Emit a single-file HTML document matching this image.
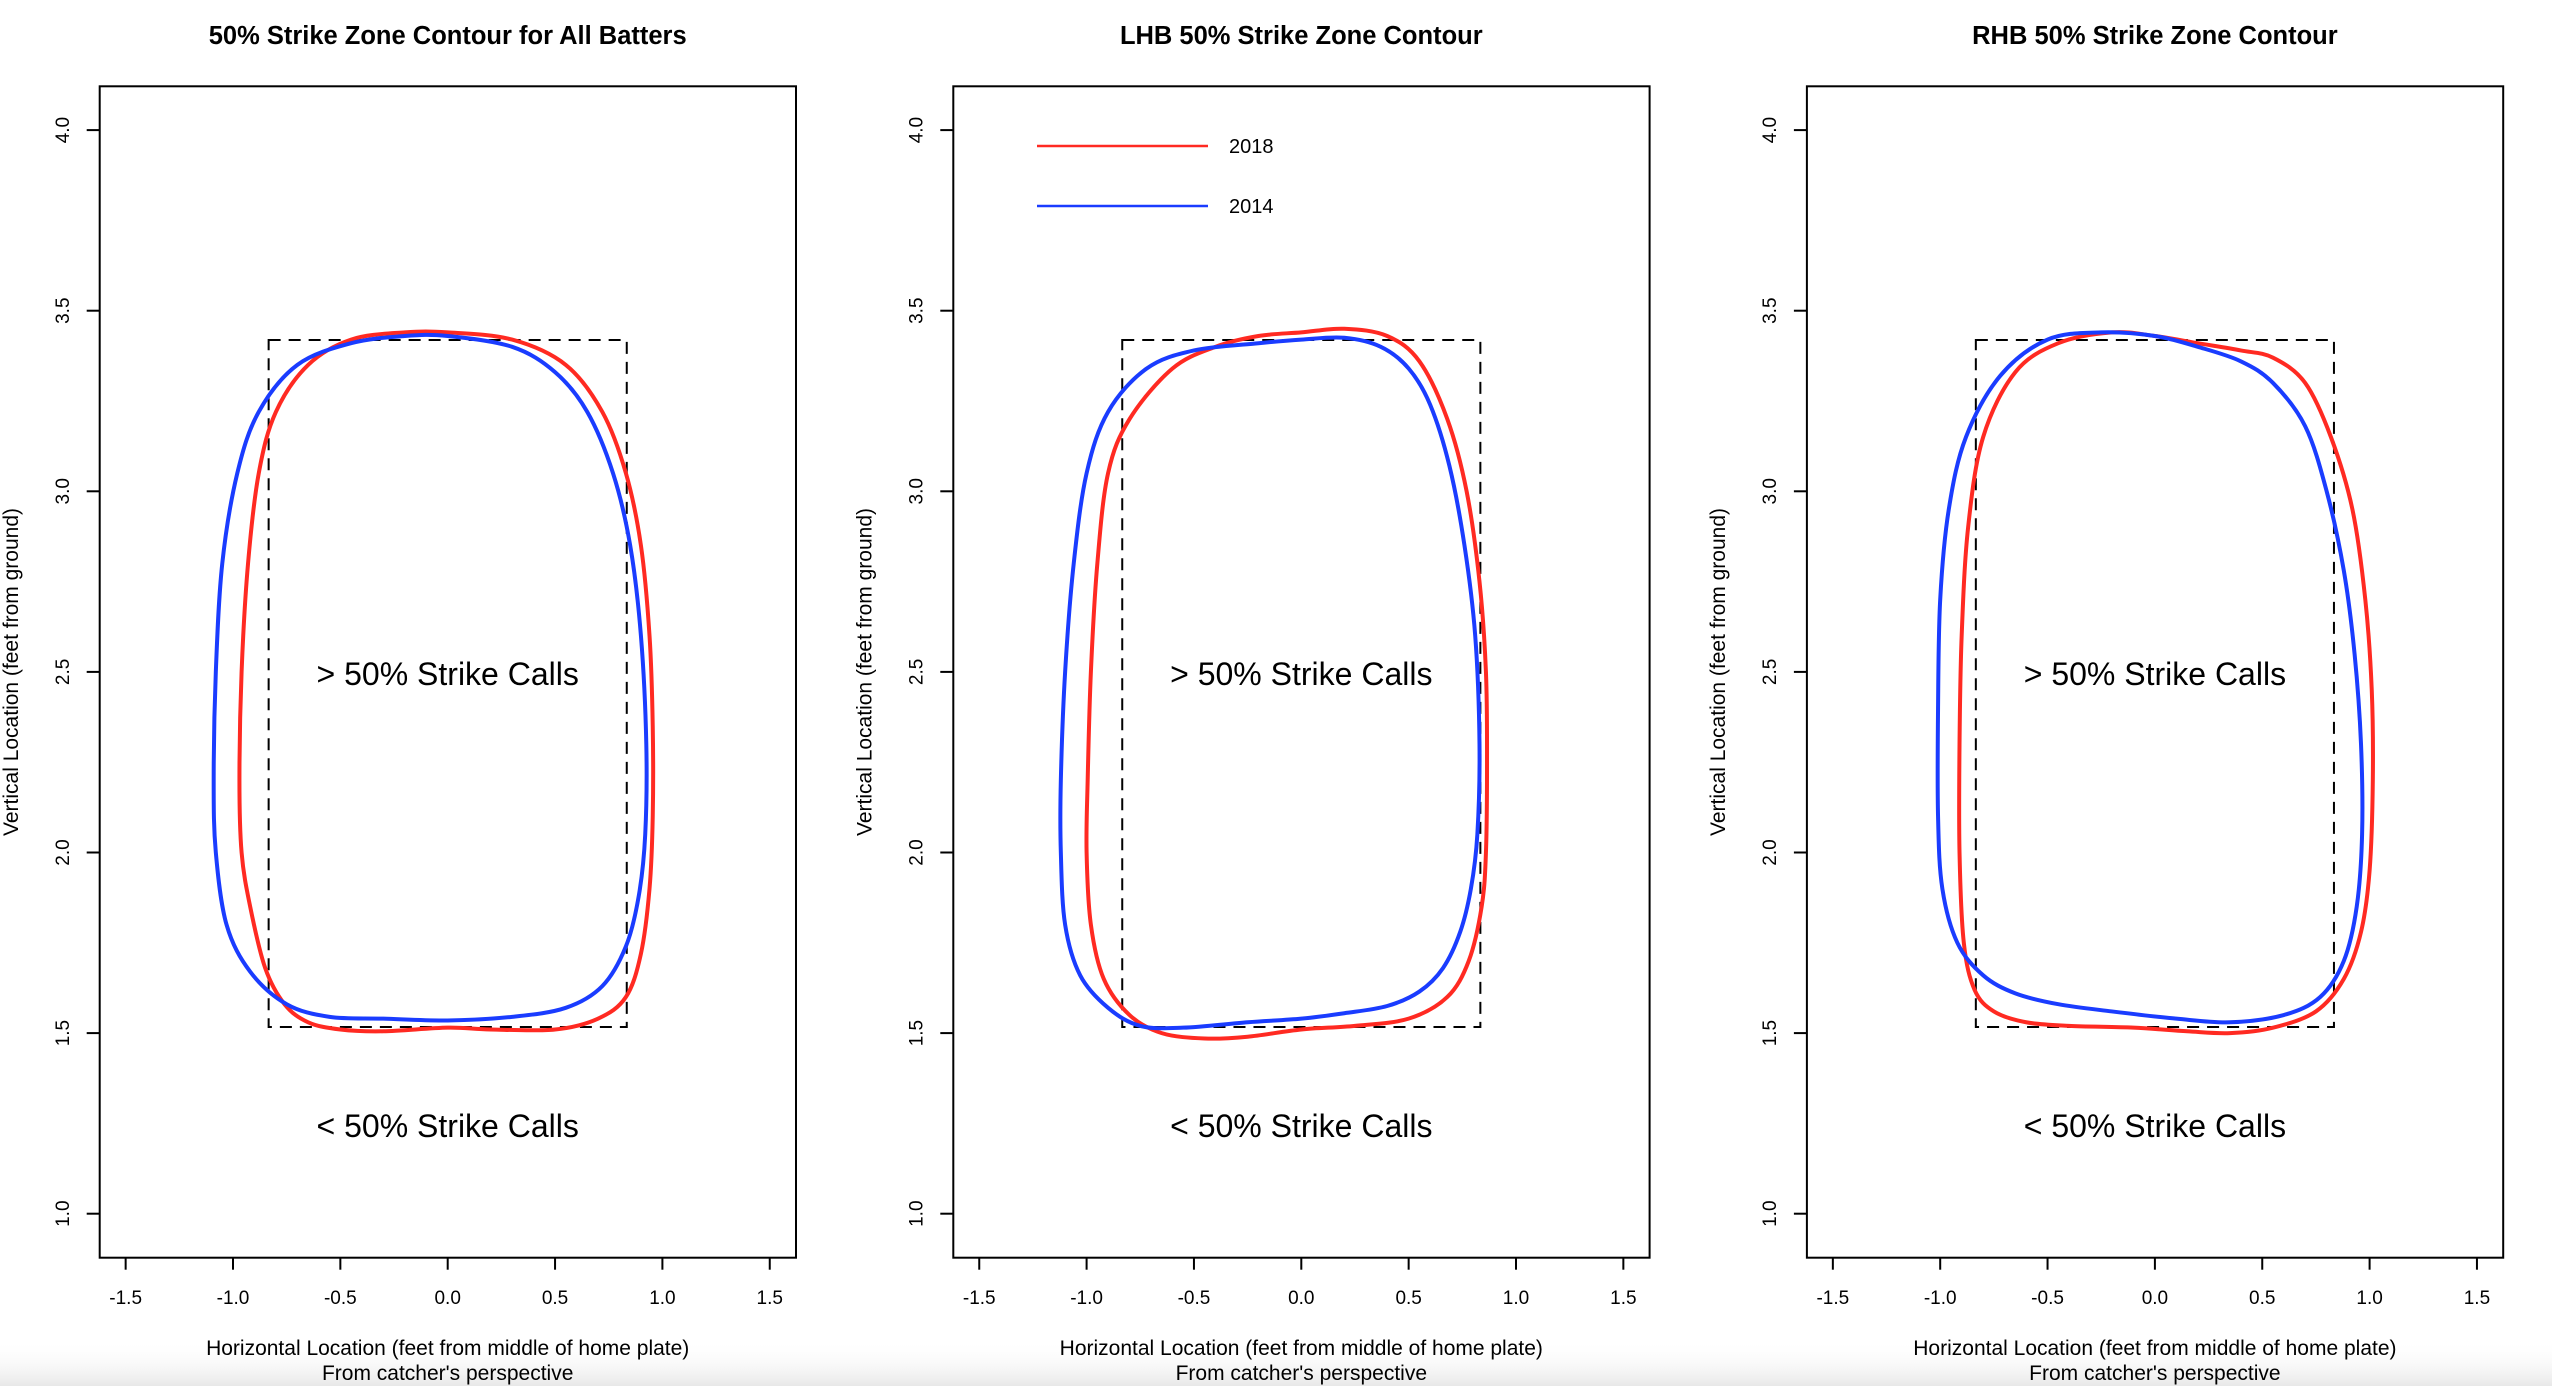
<!DOCTYPE html>
<html><head><meta charset="utf-8"><style>
html,body{margin:0;padding:0;background:#fff;}
body{width:2552px;height:1386px;overflow:hidden;position:relative;}
svg{position:absolute;left:0;top:0;}
text{font-family:"Liberation Sans",Arial,sans-serif;fill:#000;}
</style></head><body>
<svg id="chart" width="2552" height="1386" viewBox="0 0 2552 1386">
<defs><linearGradient id="fade" x1="0" y1="0" x2="0" y2="1"><stop offset="0" stop-color="#fff" stop-opacity="0"/><stop offset="1" stop-color="#e8e8e8"/></linearGradient></defs>
<rect x="0" y="1340" width="2552" height="46" fill="url(#fade)"/>
</svg>
<script>
const panelTitles = ["50% Strike Zone Contour for All Batters","LHB 50% Strike Zone Contour","RHB 50% Strike Zone Contour"];
const xTicks = [-1.5,-1.0,-0.5,0.0,0.5,1.0,1.5];
const yTicks = [1.0,1.5,2.0,2.5,3.0,3.5,4.0];
const zoneBox = [-0.834,0.834,1.517,3.419];
const seriesNames = ["2018","2014"];
const seriesColors = ["#ff2a22","#1a3cff"];
const allRed = [[0,3.44],[0.3,3.42],[0.55,3.35],[0.72,3.22],[0.83,3.05],[0.9,2.85],[0.94,2.6],[0.955,2.35],[0.955,2.1],[0.94,1.9],[0.9,1.72],[0.83,1.6],[0.7,1.54],[0.5,1.51],[0.2,1.51],[0,1.515],[-0.3,1.505],[-0.5,1.51],[-0.65,1.53],[-0.76,1.58],[-0.85,1.68],[-0.92,1.85],[-0.96,2.0],[-0.97,2.2],[-0.96,2.5],[-0.93,2.8],[-0.88,3.05],[-0.8,3.22],[-0.65,3.35],[-0.45,3.42],[-0.2,3.44]];
const allBlue = [[0,3.43],[0.3,3.40],[0.5,3.33],[0.65,3.22],[0.77,3.05],[0.85,2.85],[0.9,2.6],[0.925,2.3],[0.92,2.05],[0.89,1.88],[0.83,1.74],[0.72,1.63],[0.55,1.57],[0.3,1.545],[0,1.535],[-0.3,1.54],[-0.55,1.545],[-0.75,1.58],[-0.92,1.67],[-1.03,1.8],[-1.08,2.0],[-1.09,2.2],[-1.08,2.5],[-1.05,2.8],[-0.98,3.05],[-0.88,3.22],[-0.7,3.35],[-0.45,3.41],[-0.2,3.43]];
const lhbRed = [[0,3.44],[0.2,3.45],[0.4,3.43],[0.55,3.36],[0.68,3.2],[0.77,3.0],[0.83,2.75],[0.86,2.5],[0.865,2.25],[0.86,2.0],[0.84,1.85],[0.78,1.7],[0.68,1.6],[0.5,1.54],[0.25,1.52],[0,1.51],[-0.25,1.49],[-0.45,1.485],[-0.65,1.5],[-0.8,1.55],[-0.92,1.65],[-0.98,1.8],[-1.0,2.0],[-0.995,2.2],[-0.98,2.5],[-0.95,2.8],[-0.9,3.05],[-0.8,3.2],[-0.6,3.34],[-0.4,3.4],[-0.2,3.43]];
const lhbBlue = [[0,3.42],[0.2,3.425],[0.37,3.40],[0.5,3.34],[0.6,3.24],[0.69,3.07],[0.76,2.85],[0.81,2.6],[0.83,2.3],[0.82,2.05],[0.79,1.9],[0.74,1.78],[0.66,1.68],[0.55,1.615],[0.4,1.575],[0.2,1.555],[0.0,1.54],[-0.25,1.53],[-0.55,1.515],[-0.75,1.52],[-0.9,1.57],[-1.03,1.66],[-1.1,1.8],[-1.12,2.0],[-1.12,2.2],[-1.1,2.5],[-1.06,2.8],[-1.0,3.05],[-0.9,3.22],[-0.72,3.34],[-0.5,3.39],[-0.2,3.41]];
const rhbRed = [[0,3.43],[0.2,3.41],[0.4,3.39],[0.55,3.37],[0.7,3.3],[0.82,3.15],[0.92,2.95],[0.98,2.7],[1.01,2.45],[1.015,2.2],[1.0,1.95],[0.96,1.78],[0.88,1.65],[0.75,1.56],[0.55,1.515],[0.35,1.5],[0.15,1.505],[-0.1,1.515],[-0.4,1.52],[-0.6,1.53],[-0.75,1.56],[-0.84,1.62],[-0.89,1.75],[-0.91,2.0],[-0.91,2.3],[-0.9,2.6],[-0.87,2.9],[-0.8,3.15],[-0.65,3.33],[-0.45,3.41],[-0.2,3.44]];
const rhbBlue = [[0,3.43],[0.2,3.40],[0.4,3.36],[0.55,3.3],[0.7,3.18],[0.8,3.0],[0.88,2.78],[0.93,2.55],[0.96,2.3],[0.965,2.05],[0.94,1.85],[0.88,1.7],[0.77,1.6],[0.6,1.55],[0.35,1.53],[0.1,1.54],[-0.2,1.56],[-0.45,1.58],[-0.65,1.61],[-0.8,1.66],[-0.92,1.75],[-0.99,1.9],[-1.01,2.1],[-1.01,2.4],[-1.0,2.7],[-0.96,2.95],[-0.88,3.15],[-0.72,3.32],[-0.5,3.42],[-0.25,3.44]];
const panelSeries = [[allRed,allBlue],[lhbRed,lhbBlue],[rhbRed,rhbBlue]];

const NS="http://www.w3.org/2000/svg";
const svg=document.getElementById('chart');
function mk(tag,attrs,parent,txt){const e=document.createElementNS(NS,tag);for(const k in attrs)e.setAttribute(k,attrs[k]);if(txt!==undefined)e.textContent=txt;(parent||svg).appendChild(e);return e;}
const PANEL_DX=853.6, BOX_L=99.7, BOX_R=796, BOX_T=86.3, BOX_B=1257.7;
function xScale(p,v){return p*PANEL_DX+447.7+v*214.7;}
function yScale(v){return 1213.7-(v-1)*361.2;}
function smoothPath(pts){
  const n=pts.length;let d=`M${pts[0][0].toFixed(2)},${pts[0][1].toFixed(2)}`;
  for(let i=0;i<n;i++){const p0=pts[(i-1+n)%n],p1=pts[i],p2=pts[(i+1)%n],p3=pts[(i+2)%n];
    const c1=[p1[0]+(p2[0]-p0[0])/6,p1[1]+(p2[1]-p0[1])/6],c2=[p2[0]-(p3[0]-p1[0])/6,p2[1]-(p3[1]-p1[1])/6];
    d+=`C${c1[0].toFixed(2)},${c1[1].toFixed(2)} ${c2[0].toFixed(2)},${c2[1].toFixed(2)} ${p2[0].toFixed(2)},${p2[1].toFixed(2)}`;}
  return d+'Z';}
for(let p=0;p<3;p++){
  const dx=p*PANEL_DX;
  const g=mk('g',{});
  
  
  const t=mk('text',{x:dx+447.7,y:44,'font-size':25.5,'font-weight':'bold','text-anchor':'middle'},g,panelTitles[p]);
  
  
  const box=mk('rect',{x:dx+BOX_L,y:BOX_T,width:BOX_R-BOX_L,height:BOX_B-BOX_T,fill:'none',stroke:'#000','stroke-width':2},g);
  
  
  xTicks.forEach(v=>{const x=xScale(p,v);
    const tk=mk('line',{x1:x,x2:x,y1:BOX_B,y2:BOX_B+12,stroke:'#000','stroke-width':2},g);
    
    
    const tl=mk('text',{x:x,y:1304,'font-size':19,'text-anchor':'middle'},g,v.toFixed(1));
    
    });
  yTicks.forEach(v=>{const y=yScale(v);
    const tk=mk('line',{x1:dx+BOX_L-13,x2:dx+BOX_L,y1:y,y2:y,stroke:'#000','stroke-width':2},g);
    
    
    const tl=mk('text',{x:0,y:0,'font-size':19,'text-anchor':'middle',transform:`translate(${dx+69},${y}) rotate(-90)`},g,v.toFixed(1));
    
    });
  const xl1=mk('text',{x:dx+447.7,y:1355,'font-size':21,'text-anchor':'middle'},g,'Horizontal Location (feet from middle of home plate)');
  
  
  const xl2=mk('text',{x:dx+447.7,y:1380,'font-size':21,'text-anchor':'middle'},g,"From catcher's perspective");
  
  
  const yl=mk('text',{x:0,y:0,'font-size':21,'text-anchor':'middle',transform:`translate(${dx+18},672) rotate(-90)`},g,'Vertical Location (feet from ground)');
  
  
  const zb=mk('rect',{x:xScale(p,zoneBox[0]),y:yScale(zoneBox[3]),width:xScale(p,zoneBox[1])-xScale(p,zoneBox[0]),height:yScale(zoneBox[2])-yScale(zoneBox[3]),fill:'none',stroke:'#000','stroke-width':2,'stroke-dasharray':'12,8'},g);
  
  
  const a1=mk('text',{x:dx+447.7,y:685,'font-size':32,'text-anchor':'middle'},g,'> 50% Strike Calls');
  
  
  const a2=mk('text',{x:dx+447.7,y:1137,'font-size':32,'text-anchor':'middle'},g,'< 50% Strike Calls');
  
  
  panelSeries[p].forEach((s,si)=>{
    const pts=s.map(q=>[xScale(p,q[0]),yScale(q[1])]);
    const path=mk('path',{d:smoothPath(pts),fill:'none',stroke:seriesColors[si],'stroke-width':4,'stroke-linejoin':'round'},g);
    
    
  });
}
const lg=mk('g',{});


seriesNames.forEach((nm,i)=>{const y=146+i*60;
  const ln=mk('line',{x1:1037,x2:1208,y1:y,y2:y,stroke:seriesColors[i],'stroke-width':2.5},lg);
  
  
  const tx=mk('text',{x:1229,y:y+7,'font-size':20},lg,nm);
  
  });
</script>
</body></html>
